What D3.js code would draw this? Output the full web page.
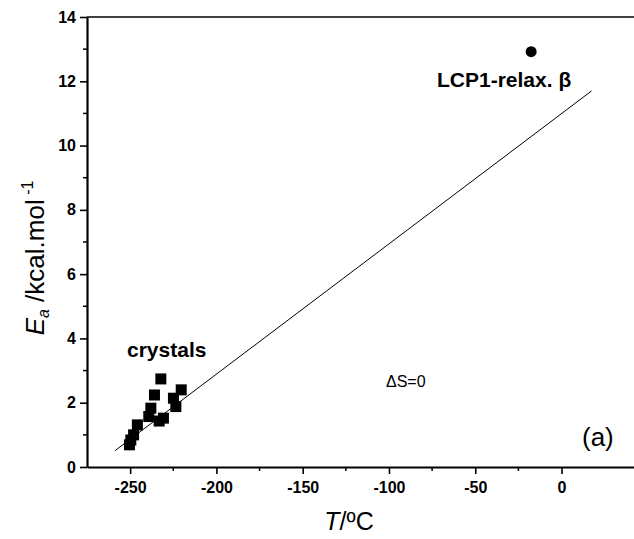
<!DOCTYPE html>
<html>
<head>
<meta charset="utf-8">
<script src="https://cdn.jsdelivr.net/npm/d3@7"></script>
<style>
  body { margin: 0; background: #fff; }
  svg { display: block; font-family: Arial, "Liberation Sans", sans-serif; }
</style>
</head>
<body>
<svg id="chart" width="634" height="539"></svg>
<script>
// crystals (squares)
var crystalT  = [-250.4, -249.6, -248, -245.8, -239.2, -238, -235.9, -232.2, -233.2, -230.7, -224.9, -223.5, -220.4];
var crystalEa = [0.69, 0.84, 1.0, 1.31, 1.57, 1.83, 2.24, 2.74, 1.43, 1.52, 2.14, 1.88, 2.40];
// LCP1 relaxation beta (dot)
var lcpT  = [-17.6];
var lcpEa = [12.92];
// dS=0 line end points
var lineT  = [-258.7, 17.4];
var lineEa = [0.51, 11.7];
// ticks
var xMajor = [-250, -200, -150, -100, -50, 0];
var xMinor = [-225, -175, -125, -75, -25];
var yMajor = [0, 2, 4, 6, 8, 10, 12, 14];
var yMinor = [1, 3, 5, 7, 9, 11, 13];

var svg = d3.select("#chart");
var x = d3.scaleLinear().domain([-275, 42]).range([87, 634]);
var y = d3.scaleLinear().domain([0, 14]).range([467, 17]);

//axes
var xAxis = svg.append("g").attr("transform", "translate(0,467)")
    .call(d3.axisBottom(x).tickValues(xMajor).tickFormat(d => String(d))
        .tickSize(7).tickPadding(8).tickSizeOuter(0));
xAxis.append("g").selectAll("line").data(xMinor).enter().append("line")
    .attr("x1", d => x(d)).attr("x2", d => x(d)).attr("y1", 0).attr("y2", 4)
    .attr("stroke", "#000").attr("stroke-width", 1.5);

var yAxis = svg.append("g").attr("transform", "translate(87,0)")
    .call(d3.axisLeft(y).tickValues(yMajor).tickFormat(d => String(d))
        .tickSize(7).tickPadding(4).tickSizeOuter(0));
yAxis.append("g").selectAll("line").data(yMinor).enter().append("line")
    .attr("y1", d => y(d)).attr("y2", d => y(d)).attr("x1", 0).attr("x2", -4)
    .attr("stroke", "#000").attr("stroke-width", 1.5);

svg.selectAll(".domain").attr("stroke-width", 2.2);
svg.selectAll(".tick line").attr("stroke-width", 1.6);
svg.selectAll(".tick text")
    .style("font-size", "16px").style("font-weight", "bold")
    .style("font-family", "Arial, 'Liberation Sans', sans-serif").attr("fill", "#000");

// top frame line
svg.append("line").attr("x1", x(-275)).attr("x2", 634).attr("y1", y(14)).attr("y2", y(14))
    .attr("stroke", "#000").attr("stroke-width", 1.5);

// dS=0 line
svg.append("line")
    .attr("x1", x(lineT[0])).attr("y1", y(lineEa[0]))
    .attr("x2", x(lineT[1])).attr("y2", y(lineEa[1]))
    .attr("stroke", "#000").attr("stroke-width", 1);

// squares
var sq = 11;
svg.append("g").selectAll("rect").data(crystalT).enter().append("rect")
    .attr("x", (d, i) => x(d) - sq / 2)
    .attr("y", (d, i) => y(crystalEa[i]) - sq / 2)
    .attr("width", sq).attr("height", sq).attr("fill", "#000");

// dot
svg.append("g").selectAll("circle").data(lcpT).enter().append("circle")
    .attr("cx", d => x(d)).attr("cy", (d, i) => y(lcpEa[i])).attr("r", 5.5).attr("fill", "#000");

// labels
svg.append("text").attr("x", 127).attr("y", 357).attr("font-size", 21).attr("font-weight", "bold").text("crystals");
svg.append("text").attr("x", 437).attr("y", 87).attr("font-size", 21).attr("font-weight", "bold").text("LCP1-relax. \u03B2");
svg.append("text").attr("x", 386).attr("y", 387).attr("font-size", 16).text("\u0394S=0");
svg.append("text").attr("x", 582).attr("y", 446).attr("font-size", 26).text("(a)");

// x title
var xt = svg.append("text").attr("x", 349).attr("y", 530).attr("text-anchor", "middle").attr("font-size", 25);
xt.append("tspan").attr("font-style", "italic").text("T");
xt.append("tspan").text("/\u00BAC");

// y title
var yt = svg.append("text").attr("transform", "translate(44,258) rotate(-90)")
    .attr("text-anchor", "middle").attr("font-size", 26);
yt.append("tspan").attr("font-style", "italic").text("E");
yt.append("tspan").attr("font-size", 16).attr("dy", 5).attr("font-style", "italic").text("a");
yt.append("tspan").attr("dy", -5).text(" /kcal.mol");
yt.append("tspan").attr("font-size", 16).attr("dy", -11).text(" -1");
</script>
</body>
</html>
